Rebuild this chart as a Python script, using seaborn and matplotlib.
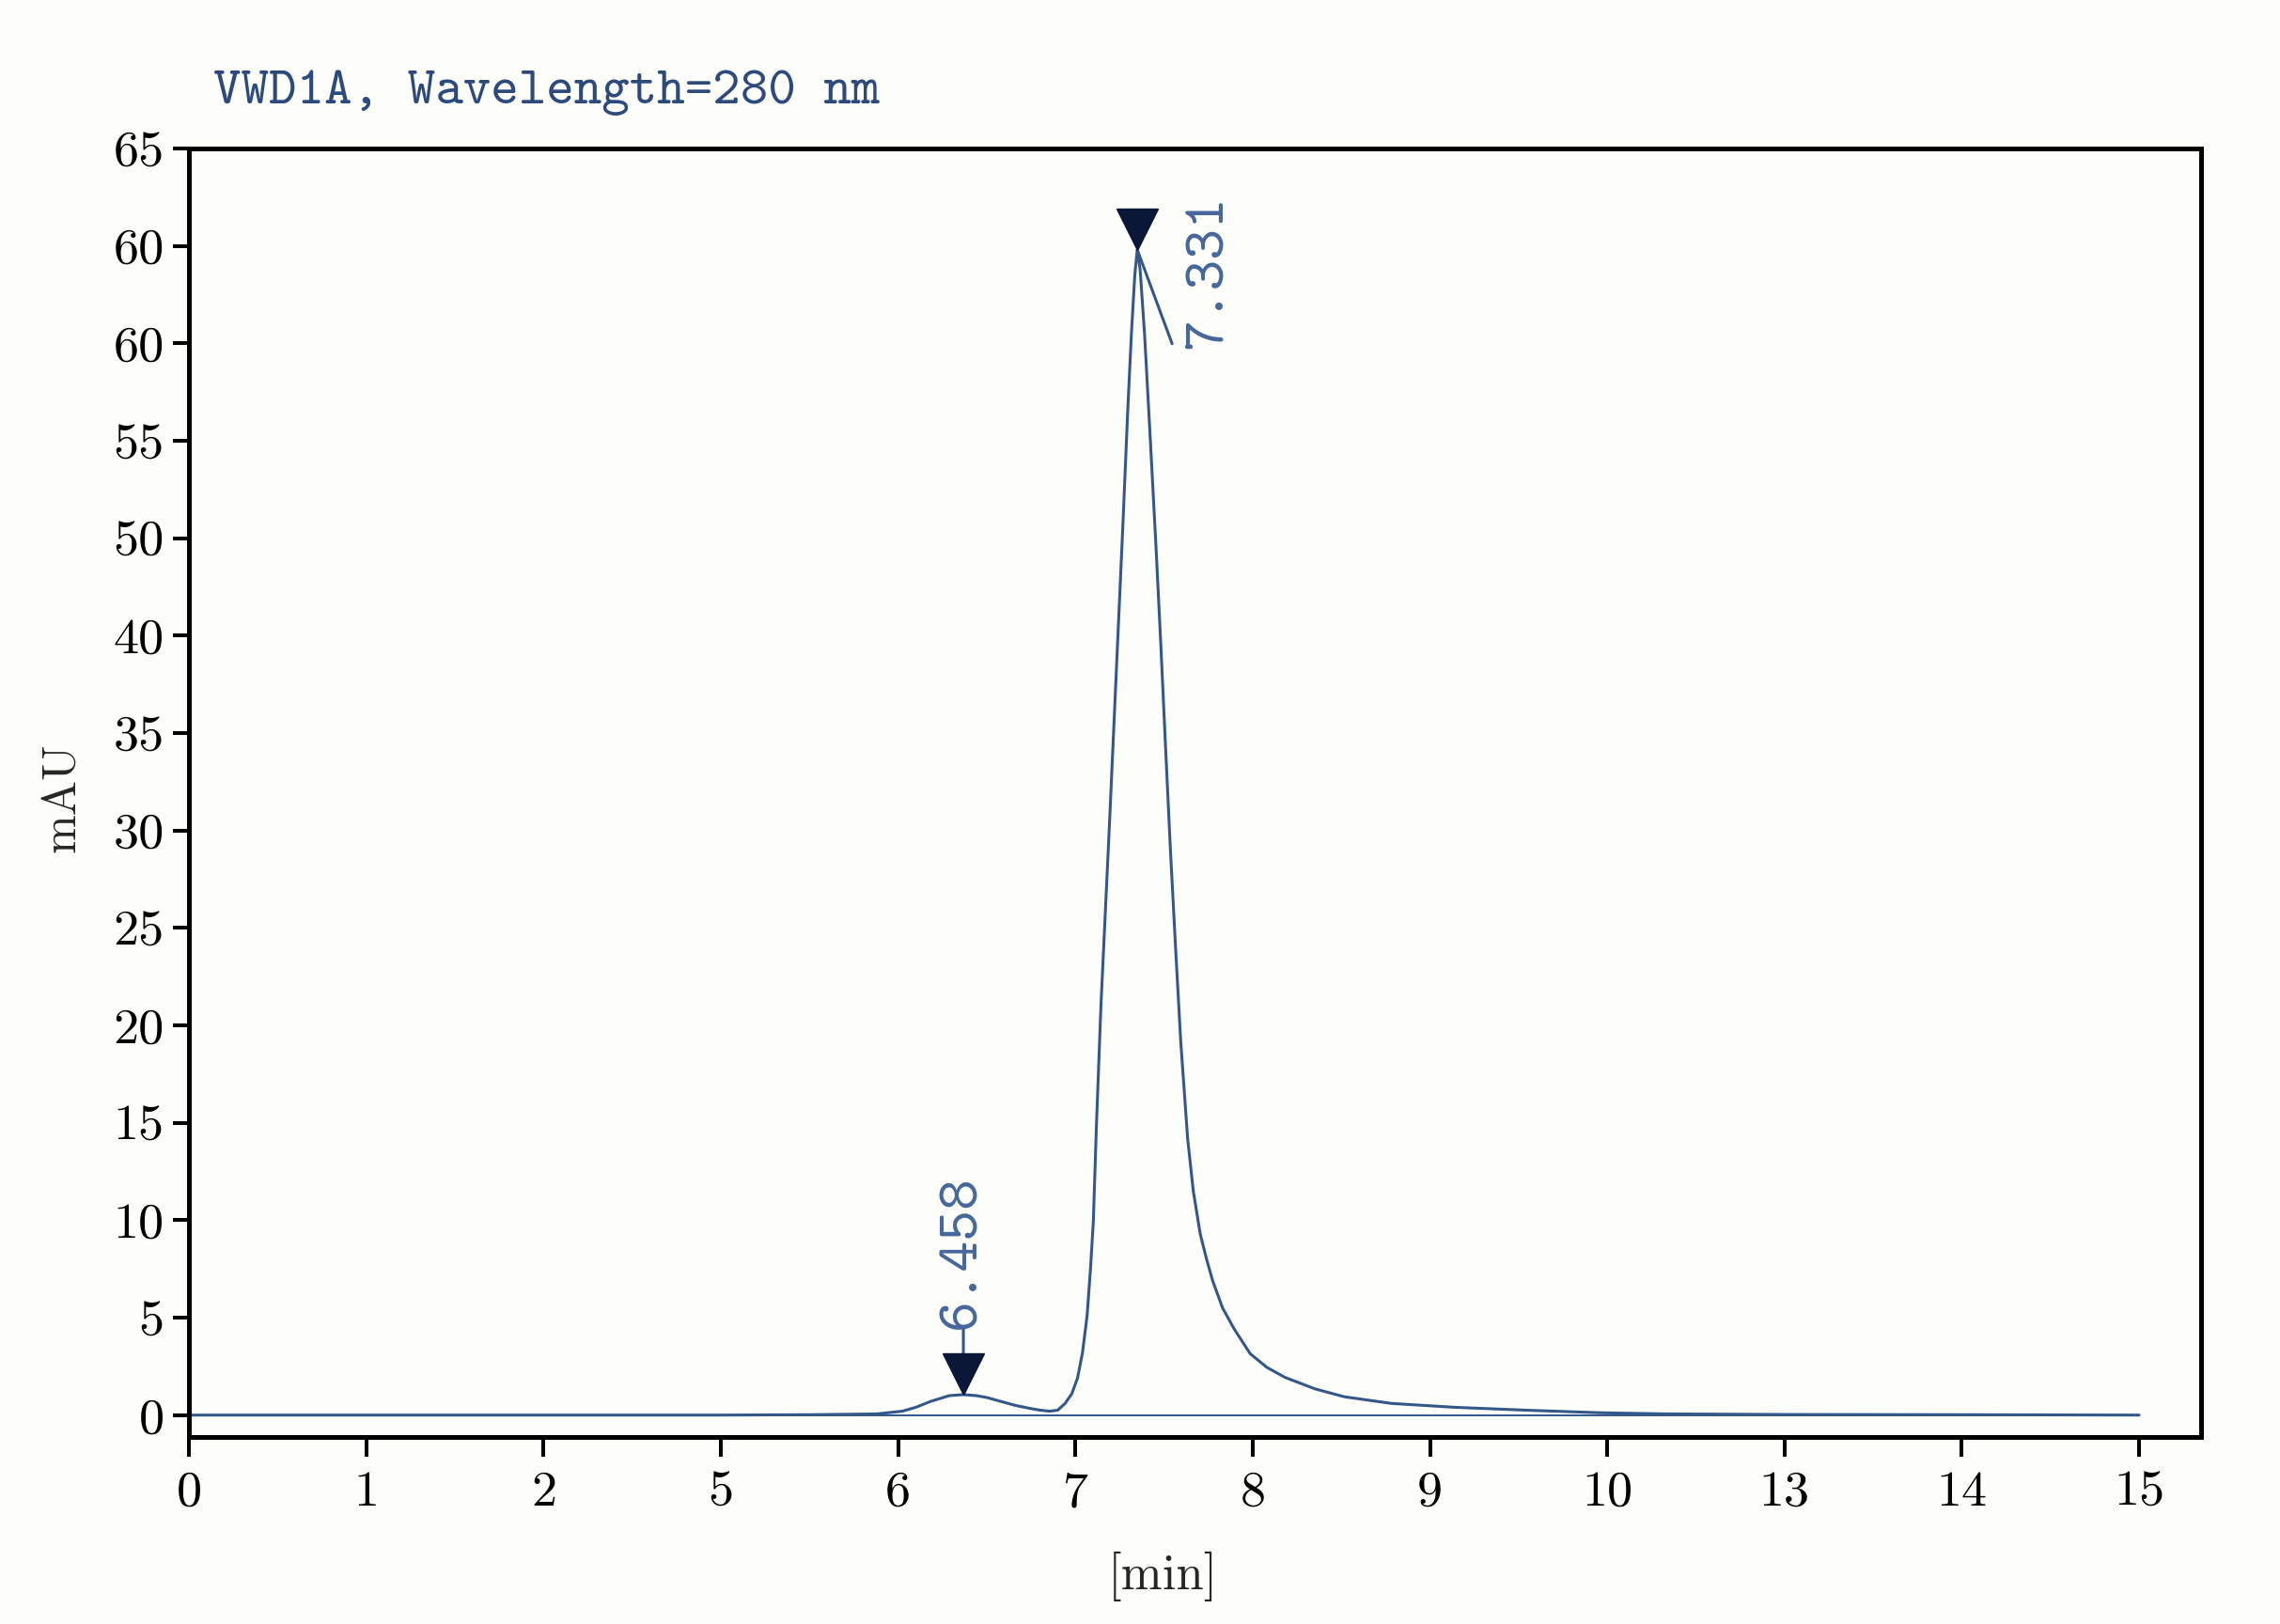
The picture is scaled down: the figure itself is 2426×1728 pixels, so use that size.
import numpy as np
import pandas as pd
import matplotlib
matplotlib.use("Agg")
import matplotlib.pyplot as plt
import matplotlib.transforms as mtransforms
import seaborn as sns

# ---------------- data ----------------
title_text = "VWD1A, Wavelength=280 nm"
x_label = "[min]"
y_label = "mAU"

time_min = [0.0, 1.0, 2.0, 5.0, 5.5, 5.705, 5.88, 6.024, 6.10, 6.183, 6.289, 6.368,
            6.44, 6.501, 6.58, 6.66, 6.74, 6.801, 6.855, 6.90, 6.942, 6.98, 7.012,
            7.040, 7.066, 7.085, 7.101, 7.118, 7.144, 7.193, 7.230, 7.267, 7.295,
            7.316, 7.335, 7.349, 7.365, 7.390, 7.420, 7.455, 7.482, 7.510, 7.536,
            7.565, 7.594, 7.633, 7.665, 7.704, 7.740, 7.774, 7.830, 7.897, 7.986,
            8.080, 8.181, 8.350, 8.517, 8.782, 9.137, 9.547, 9.957, 11.0, 13.0,
            14.0, 15.0]
signal_mau = [0.0, 0.0, 0.0, 0.0, 0.02, 0.04, 0.06, 0.2, 0.4, 0.7, 1.0, 1.05,
              1.0, 0.9, 0.7, 0.5, 0.35, 0.25, 0.2, 0.25, 0.6, 1.1, 1.9,
              3.2, 5.1, 7.5, 9.9, 14.7, 21.0, 30.5, 38.0, 45.5, 51.5,
              55.5, 58.5, 59.8, 58.8, 55.5, 50.5, 44.5, 39.5, 34.0, 29.0,
              24.0, 19.2, 14.2, 11.5, 9.3, 8.0, 6.9, 5.5, 4.4, 3.15,
              2.45, 1.94, 1.35, 0.94, 0.6, 0.4, 0.25, 0.12, 0.06, 0.03,
              0.02, 0.0]

baseline_time = [0.0, 15.0]
baseline_signal = [0.0, 0.0]

x_tick_values = [0, 1, 2, 5, 6, 7, 8, 9, 10, 13, 14, 15]
x_tick_labels = ["0", "1", "2", "5", "6", "7", "8", "9", "10", "13", "14", "15"]
y_tick_values = [0, 5, 10, 15, 20, 25, 30, 35, 40, 45, 50, 55, 60, 65]
y_tick_labels = ["0", "5", "10", "15", "20", "25", "30", "35", "40",
                 "50", "55", "60", "60", "65"]

peak_labels = ["6.458", "7.331"]
peak_windows = [(6.0, 6.8), (7.0, 8.0)]

# ---------------- styling ----------------
BG = "#fdfdf9"
CURVE = "#33578a"
LABEL_BLUE = "#46679a"
TITLE_BLUE = "#2c4a7c"
NAVY = "#0b1736"
SERIF = ["cmr10", "Liberation Serif", "DejaVu Serif"]
MONO = ["cmtt10", "Liberation Mono", "DejaVu Sans Mono"]

sns.set_theme(style="white")
plt.rcParams["font.family"] = SERIF
plt.rcParams["axes.formatter.use_mathtext"] = True
plt.rcParams["axes.edgecolor"] = "black"

df = pd.DataFrame({"time": time_min, "signal": signal_mau})
base_df = pd.DataFrame({"time": baseline_time, "signal": baseline_signal})

fig = plt.figure(figsize=(24.26, 17.28), dpi=100, facecolor=BG)
ax = fig.add_axes([0.0829, 0.1152, 0.8825, 0.7934], facecolor=BG)

# non-uniform time axis: tick labels sit at evenly spaced positions
tm = np.array(x_tick_values, dtype=float)
tp = np.arange(len(tm), dtype=float)


def fwd(x):
    x = np.asarray(x, dtype=float)
    y = np.interp(x, tm, tp)
    hi = tp[-1] + (x - tm[-1]) * (tp[-1] - tp[-2]) / (tm[-1] - tm[-2])
    lo = tp[0] + (x - tm[0]) * (tp[1] - tp[0]) / (tm[1] - tm[0])
    y = np.where(x > tm[-1], hi, y)
    y = np.where(x < tm[0], lo, y)
    return y


def inv(p):
    p = np.asarray(p, dtype=float)
    x = np.interp(p, tp, tm)
    hi = tm[-1] + (p - tp[-1]) * (tm[-1] - tm[-2]) / (tp[-1] - tp[-2])
    lo = tm[0] + (p - tp[0]) * (tm[1] - tm[0]) / (tp[1] - tp[0])
    x = np.where(p > tp[-1], hi, x)
    x = np.where(p < tp[0], lo, x)
    return x


ax.set_xscale("function", functions=(fwd, inv))

sns.lineplot(data=base_df, x="time", y="signal", ax=ax, color=CURVE,
             linewidth=1.4, estimator=None, sort=False)
sns.lineplot(data=df, x="time", y="signal", ax=ax, color=CURVE,
             linewidth=2.2, estimator=None, sort=False)

ax.set_xlim(0, 15.35)
ax.set_ylim(-1.12, 65)

ax.set_xticks(x_tick_values, labels=x_tick_labels)
ax.set_yticks(y_tick_values, labels=y_tick_labels)
ax.minorticks_off()
ax.tick_params(axis="x", which="major", direction="out", length=15, width=2.9,
               pad=11, labelsize=39, colors="black", bottom=True)
ax.tick_params(axis="y", which="major", direction="out", length=12, width=2.9,
               pad=7, labelsize=39, colors="black", left=True)
for s in ax.spines.values():
    s.set_visible(True)
    s.set_color("black")
    s.set_linewidth(3.6)

ax.set_xlabel(x_label, fontsize=38, va="center", ha="center")
ax.xaxis.set_label_coords(0.484, -0.108)
ax.set_ylabel(y_label, fontsize=36, va="center", ha="center")
ax.yaxis.set_label_coords(-0.0628, 0.496)

fig.text(0.0936, 0.943, title_text, fontsize=40.5, color=TITLE_BLUE,
         family=MONO, va="center", ha="left")

# ---------------- peak markers & labels ----------------
t_arr = np.array(time_min)
s_arr = np.array(signal_mau)
tri_size = 31  # points
for i, (lab, (a, b)) in enumerate(zip(peak_labels, peak_windows)):
    m = (t_arr >= a) & (t_arr <= b)
    idx = np.where(m)[0][np.argmax(s_arr[m])]
    px, py = t_arr[idx], s_arr[idx]
    if i == 0:
        line_end = (0, 50)
        text_pos = (0, 50)
        shrinkB = tri_size
    else:
        line_end = (26.7, -72)
        text_pos = (54.6, -75.6)
        shrinkB = 0
    ax.annotate("", xy=(px, py), xycoords="data", xytext=line_end,
                textcoords="offset points",
                arrowprops=dict(arrowstyle="-", color=CURVE, lw=2.2,
                                shrinkA=0, shrinkB=shrinkB))
    off = mtransforms.ScaledTranslation(0, tri_size / 2 / 72, fig.dpi_scale_trans)
    ax.plot([px], [py], marker="v", markersize=tri_size, color=NAVY,
            markeredgecolor=NAVY, linestyle="none",
            transform=ax.transData + off, zorder=5)
    ax.annotate(lab, xy=(px, py), xycoords="data", xytext=text_pos,
                textcoords="offset points", rotation=90,
                rotation_mode="anchor", ha="left", va="center",
                fontsize=45, color=LABEL_BLUE, family=MONO)

fig.savefig("out.png", dpi=100, facecolor=BG)
